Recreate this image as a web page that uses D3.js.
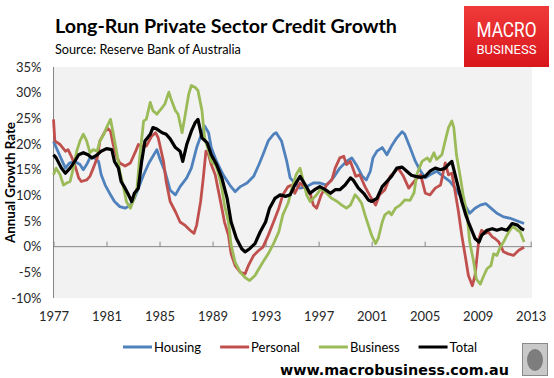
<!DOCTYPE html>
<html><head><meta charset="utf-8">
<script src="https://cdn.jsdelivr.net/npm/d3@7"></script>
<style>
body{margin:0;background:#fff;}
svg{display:block;}
</style></head><body>
<svg id="chart" width="554" height="378"></svg>
<script>
// ---- data (year, annual growth %) ----
const housing = [[1977.0,20.5],[1977.5,17.6],[1977.9,15.3],[1978.2,16.3],[1978.6,16.6],[1979.0,16.0],[1979.25,15.0],[1979.5,16.0],[1979.75,17.3],[1980.1,17.3],[1980.4,16.6],[1980.6,14.0],[1980.9,12.0],[1981.3,10.1],[1981.6,8.8],[1982.0,7.8],[1982.4,7.5],[1982.8,8.1],[1983.1,9.4],[1983.4,11.4],[1983.8,14.0],[1984.2,16.3],[1984.5,17.6],[1984.8,18.9],[1985.0,17.3],[1985.4,14.7],[1985.8,11.0],[1986.2,10.1],[1986.55,11.7],[1987.05,13.4],[1987.4,15.3],[1987.8,19.3],[1988.2,22.2],[1988.4,23.5],[1988.7,22.2],[1988.9,19.3],[1989.3,16.6],[1989.8,14.0],[1990.3,12.0],[1990.7,10.7],[1991.1,11.7],[1991.6,12.4],[1992.1,13.7],[1992.5,16.0],[1992.8,17.9],[1993.2,20.6],[1993.6,21.9],[1993.8,22.2],[1994.2,20.6],[1994.6,16.6],[1994.85,13.4],[1995.1,12.7],[1995.6,11.4],[1996.1,11.7],[1996.6,12.4],[1997.1,12.4],[1997.6,12.0],[1998.1,13.4],[1998.6,15.3],[1999.1,16.6],[1999.5,17.3],[1999.9,15.7],[2000.3,13.7],[2000.6,13.0],[2000.9,14.7],[2001.1,17.3],[2001.4,18.6],[2001.8,19.3],[2002.15,17.9],[2002.5,19.6],[2002.9,21.2],[2003.3,22.4],[2003.5,21.9],[2003.9,19.3],[2004.3,16.6],[2004.7,14.7],[2005.05,13.4],[2005.4,14.0],[2005.9,14.7],[2006.4,13.7],[2006.9,12.7],[2007.3,11.4],[2007.7,9.8],[2008.1,7.8],[2008.4,6.5],[2008.8,7.5],[2009.2,8.1],[2009.6,8.4],[2010.0,7.5],[2010.45,6.5],[2010.95,5.8],[2011.5,5.5],[2012.0,5.0],[2012.5,4.5]];

const personal = [[1977.0,24.8],[1977.1,20.6],[1977.5,19.9],[1977.9,18.6],[1978.1,18.9],[1978.4,17.3],[1978.6,16.0],[1978.9,13.4],[1979.1,12.7],[1979.5,13.0],[1979.75,13.7],[1980.0,15.3],[1980.3,17.3],[1980.5,20.6],[1980.9,22.5],[1981.1,23.0],[1981.3,22.5],[1981.5,19.9],[1981.8,17.3],[1982.0,16.3],[1982.4,15.7],[1982.8,16.3],[1983.2,18.6],[1983.4,19.9],[1983.65,19.6],[1984.0,19.6],[1984.4,21.5],[1984.7,22.2],[1984.9,21.2],[1985.3,16.6],[1985.5,12.7],[1985.8,8.8],[1986.2,6.8],[1986.55,4.8],[1986.9,4.2],[1987.3,3.2],[1987.6,2.6],[1987.8,4.2],[1988.1,8.8],[1988.3,13.4],[1988.5,18.6],[1988.7,17.9],[1988.9,16.0],[1989.2,14.0],[1989.4,11.4],[1989.7,7.5],[1989.9,4.8],[1990.2,2.2],[1990.4,-1.4],[1990.7,-3.7],[1991.1,-5.0],[1991.45,-5.3],[1991.7,-3.7],[1992.1,-1.7],[1992.5,-0.7],[1992.8,-0.1],[1993.2,2.2],[1993.6,4.8],[1994.0,7.5],[1994.3,10.1],[1994.7,11.7],[1995.0,12.0],[1995.2,10.4],[1995.6,12.4],[1996.0,11.4],[1996.4,10.1],[1996.6,8.1],[1996.85,7.5],[1997.2,10.1],[1997.6,12.0],[1998.0,13.0],[1998.25,15.3],[1998.6,17.3],[1998.9,17.6],[1999.1,16.0],[1999.4,16.6],[1999.8,13.7],[2000.1,14.0],[2000.5,11.7],[2000.9,9.8],[2001.3,8.1],[2001.6,10.1],[2002.0,11.1],[2002.4,13.7],[2002.8,14.7],[2003.0,15.3],[2003.4,13.7],[2003.8,11.4],[2004.3,13.0],[2004.7,14.0],[2005.05,10.4],[2005.4,10.1],[2005.8,11.4],[2006.2,12.0],[2006.55,16.3],[2006.8,14.0],[2007.05,14.3],[2007.3,10.7],[2007.55,6.8],[2007.8,2.2],[2008.1,-2.4],[2008.3,-5.6],[2008.6,-7.6],[2008.8,-5.6],[2009.1,1.6],[2009.3,3.2],[2009.6,2.6],[2009.8,2.9],[2010.1,1.9],[2010.3,1.6],[2010.6,0.9],[2010.95,-1.0],[2011.3,-1.4],[2011.7,-1.7],[2012.1,-0.7],[2012.5,-0.1]];

const business = [[1977.0,14.0],[1977.2,15.3],[1977.5,14.0],[1977.75,12.0],[1978.0,12.4],[1978.25,12.7],[1978.5,15.3],[1978.75,18.6],[1979.0,20.6],[1979.25,21.9],[1979.5,20.6],[1979.75,18.3],[1980.0,18.9],[1980.3,18.6],[1980.5,20.6],[1980.8,21.9],[1981.0,23.2],[1981.3,24.8],[1981.5,22.2],[1981.8,17.9],[1982.0,14.7],[1982.3,11.4],[1982.5,8.8],[1982.8,7.5],[1983.0,8.8],[1983.3,11.4],[1983.5,17.3],[1983.8,24.5],[1984.0,24.8],[1984.3,28.1],[1984.5,26.5],[1984.8,25.8],[1985.2,27.1],[1985.4,27.8],[1985.7,30.1],[1985.9,28.5],[1986.2,26.5],[1986.4,25.8],[1986.7,22.2],[1986.9,25.1],[1987.2,29.7],[1987.4,31.4],[1987.7,31.0],[1987.9,30.4],[1988.2,26.5],[1988.4,21.2],[1988.7,18.6],[1988.9,16.6],[1989.2,16.0],[1989.4,14.7],[1989.7,11.4],[1989.9,8.1],[1990.2,4.8],[1990.4,0.3],[1990.7,-3.0],[1991.1,-5.0],[1991.45,-6.0],[1991.8,-6.6],[1992.2,-5.6],[1992.5,-4.3],[1992.8,-3.0],[1993.2,-1.4],[1993.6,0.6],[1994.0,2.9],[1994.3,6.2],[1994.7,8.5],[1995.0,11.5],[1995.3,14.0],[1995.6,15.3],[1995.85,12.7],[1996.1,10.1],[1996.35,8.8],[1996.6,9.4],[1996.85,10.1],[1997.2,11.4],[1997.6,10.4],[1998.0,9.4],[1998.4,8.8],[1998.75,8.1],[1999.1,7.5],[1999.4,8.1],[1999.75,10.1],[2000.0,9.4],[2000.25,8.4],[2000.5,6.2],[2000.75,4.2],[2001.0,2.2],[2001.3,0.6],[2001.5,1.6],[2001.8,4.8],[2002.0,6.2],[2002.3,6.8],[2002.5,6.2],[2002.8,7.5],[2003.15,8.1],[2003.5,9.1],[2003.9,9.0],[2004.2,10.5],[2004.4,14.0],[2004.8,16.6],[2005.2,17.3],[2005.4,16.6],[2005.7,18.3],[2005.9,17.0],[2006.3,17.9],[2006.55,20.6],[2006.8,23.2],[2007.05,24.5],[2007.2,23.2],[2007.4,17.9],[2007.7,13.4],[2007.9,10.1],[2008.2,6.2],[2008.4,0.9],[2008.7,-3.0],[2008.9,-6.3],[2009.2,-7.3],[2009.4,-6.0],[2009.7,-4.3],[2010.0,-3.7],[2010.2,-1.4],[2010.45,-1.7],[2010.7,-0.1],[2010.95,0.9],[2011.2,2.2],[2011.5,3.5],[2011.7,3.9],[2012.0,3.2],[2012.2,2.9],[2012.5,0.9]];

const total = [[1977.0,17.9],[1977.2,17.3],[1977.6,15.3],[1977.9,14.3],[1978.25,15.3],[1978.6,16.6],[1978.9,17.9],[1979.25,18.3],[1979.6,17.9],[1979.9,17.3],[1980.3,17.9],[1980.6,18.6],[1981.0,19.1],[1981.4,18.9],[1981.6,16.6],[1981.9,15.3],[1982.1,12.7],[1982.4,11.4],[1982.6,10.4],[1982.9,8.8],[1983.1,10.4],[1983.4,11.4],[1983.65,16.6],[1983.9,20.6],[1984.3,21.9],[1984.5,23.2],[1984.8,22.9],[1985.2,22.2],[1985.5,21.9],[1985.8,21.0],[1986.2,19.3],[1986.55,18.6],[1986.75,16.6],[1987.05,19.9],[1987.4,22.5],[1987.7,24.2],[1987.9,24.8],[1988.2,21.2],[1988.6,20.2],[1988.9,17.9],[1989.3,16.0],[1989.7,13.4],[1990.1,9.4],[1990.4,4.8],[1990.8,1.6],[1991.2,-0.4],[1991.45,-1.0],[1991.8,-0.4],[1992.2,0.6],[1992.6,2.9],[1993.0,4.8],[1993.3,7.5],[1993.7,9.4],[1994.1,10.1],[1994.5,9.8],[1994.85,10.1],[1995.2,12.0],[1995.6,13.7],[1996.0,12.0],[1996.35,10.4],[1996.7,11.1],[1997.1,11.7],[1997.5,11.1],[1997.9,10.4],[1998.25,11.1],[1998.6,11.1],[1999.0,12.0],[1999.4,13.4],[1999.6,13.0],[2000.0,11.4],[2000.4,10.4],[2000.75,9.1],[2001.0,8.8],[2001.4,9.4],[2001.8,11.7],[2002.15,12.7],[2002.5,13.7],[2002.9,15.3],[2003.3,15.5],[2003.65,14.7],[2004.0,13.9],[2004.3,13.7],[2004.7,13.5],[2005.05,13.7],[2005.4,14.7],[2005.8,15.3],[2006.2,15.0],[2006.55,15.3],[2006.8,16.0],[2007.05,16.6],[2007.3,14.0],[2007.55,11.4],[2007.8,8.8],[2008.1,6.2],[2008.3,4.8],[2008.6,2.9],[2008.8,1.6],[2009.1,0.9],[2009.3,2.2],[2009.7,3.2],[2010.1,3.5],[2010.45,3.2],[2010.8,3.5],[2011.2,3.2],[2011.6,4.5],[2012.0,4.2],[2012.3,3.5],[2012.5,3.2]];

const seriesNames = ["Housing","Personal","Business","Total"];
const seriesColors = ["#4F81BD","#C0504D","#9BBB59","#000000"];
const yTicks = [-10,-5,0,5,10,15,20,25,30,35];
const xTicks = [1977,1981,1985,1989,1993,1997,2001,2005,2009,2013];

// ---- drawing ----
const svg = d3.select("#chart");
const x = d3.scaleLinear().domain([1977,2013]).range([53.5,530.7]);
const y = d3.scaleLinear().domain([-10,35]).range([298,67]);

function fitText(sel, target){
  let fs = parseFloat(sel.attr("font-size"));
  for(let i=0;i<4;i++){
    const w = sel.node().getComputedTextLength();
    if(!w) break;
    fs = fs*target/w;
    sel.attr("font-size", fs.toFixed(2));
  }
}

// titles
const title = svg.append("text").attr("x",55).attr("y",32.5)
  .attr("font-family","Lato, 'Open Sans', sans-serif").attr("font-weight","bold")
  .attr("font-size",19).attr("fill","#000").text("Long-Run Private Sector Credit Growth");
fitText(title, 342);
const sub = svg.append("text").attr("x",55).attr("y",54)
  .attr("font-family","Lato, 'Open Sans', sans-serif")
  .attr("font-size",13).attr("fill","#000").text("Source: Reserve Bank of Australia");
fitText(sub, 186);

// logo
const defs = svg.append("defs");
const grad = defs.append("linearGradient").attr("id","lg").attr("x1",0).attr("y1",0).attr("x2",0).attr("y2",1);
grad.append("stop").attr("offset","0%").attr("stop-color","#f03a3a");
grad.append("stop").attr("offset","100%").attr("stop-color","#d8161c");
svg.append("rect").attr("x",464).attr("y",6).attr("width",85).attr("height",61).attr("fill","url(#lg)");
svg.append("text").attr("x",506.5).attr("y",37).attr("text-anchor","middle")
  .attr("font-family","'Liberation Sans Narrow', Roboto, sans-serif").attr("font-size",21)
  .attr("fill","#fff").attr("textLength",60).attr("lengthAdjust","spacingAndGlyphs").text("MACRO");
svg.append("text").attr("x",506.5).attr("y",54).attr("text-anchor","middle")
  .attr("font-family","'Liberation Sans Narrow', Roboto, sans-serif").attr("font-size",12.5)
  .attr("fill","#fff").attr("textLength",60).attr("lengthAdjust","spacingAndGlyphs").text("BUSINESS");

// plot background
svg.append("rect").attr("x",53).attr("y",67).attr("width",479).attr("height",231).attr("fill","#f2f2f2");

// y axis
const yAxis = svg.append("g").attr("transform","translate(53.5,0)")
  .call(d3.axisLeft(y).tickValues(yTicks).tickSize(0).tickPadding(12).tickFormat(d=>d+"%"));
yAxis.select(".domain").attr("stroke","#868686").attr("d","M0,67V298");
yAxis.selectAll("text").attr("font-family","Lato, sans-serif").attr("font-size",13).attr("fill","#262626");

// x axis on zero line
const xAxis = svg.append("g").attr("transform",`translate(0,${y(0)})`)
  .call(d3.axisBottom(x).tickValues(xTicks).tickSizeInner(-5).tickSizeOuter(0).tickFormat(d3.format("d")));
xAxis.select(".domain").attr("stroke","#868686").attr("d",`M53.5,0H532`);
xAxis.selectAll(".tick line").attr("stroke","#868686");
xAxis.selectAll("text").attr("y",65).attr("font-family","Lato, sans-serif").attr("font-size",13).attr("fill","#262626");

// y label
const ylab = svg.append("text").attr("transform","translate(15,182.5) rotate(-90)")
  .attr("text-anchor","middle").attr("font-family","Lato, sans-serif").attr("font-weight","bold")
  .attr("font-size",13).attr("fill","#000").text("Annual Growth Rate");
fitText(ylab, 121);

// lines
const line = d3.line().x(d=>x(d[0])).y(d=>y(d[1]));
const allSeries = [housing, personal, business, total];
svg.append("g").selectAll("path").data(allSeries).join("path")
  .attr("d", line).attr("fill","none")
  .attr("stroke",(d,i)=>seriesColors[i])
  .attr("stroke-width",(d,i)=>i===3?3.2:2.8)
  .attr("stroke-linejoin","round").attr("stroke-linecap","butt");

// legend
const leg = svg.append("g");
let lx = 123;
seriesNames.forEach((n,i)=>{
  leg.append("line").attr("x1",lx).attr("x2",lx+29).attr("y1",347).attr("y2",347)
    .attr("stroke",seriesColors[i]).attr("stroke-width",3);
  const t = leg.append("text").attr("x",lx+31).attr("y",351.5)
    .attr("font-family","Lato, sans-serif").attr("font-size",13).attr("fill","#000").text(n);
  lx = lx + 31 + t.node().getComputedTextLength() + 19;
});

// footer
const foot = svg.append("text").attr("x",280).attr("y",374.5)
  .attr("font-family","'DejaVu Sans', Verdana, sans-serif").attr("font-weight","bold")
  .attr("font-size",14).attr("fill","#000").text("www.macrobusiness.com.au");
fitText(foot, 229);

// wolf badge placeholder
svg.append("rect").attr("x",522.5).attr("y",343.5).attr("width",25).attr("height",32)
  .attr("fill","#c9c9c9").attr("stroke","#8a8a8a");
svg.append("ellipse").attr("cx",535).attr("cy",360).attr("rx",8).attr("ry",11).attr("fill","#7d7d7d");
</script>
</body></html>
